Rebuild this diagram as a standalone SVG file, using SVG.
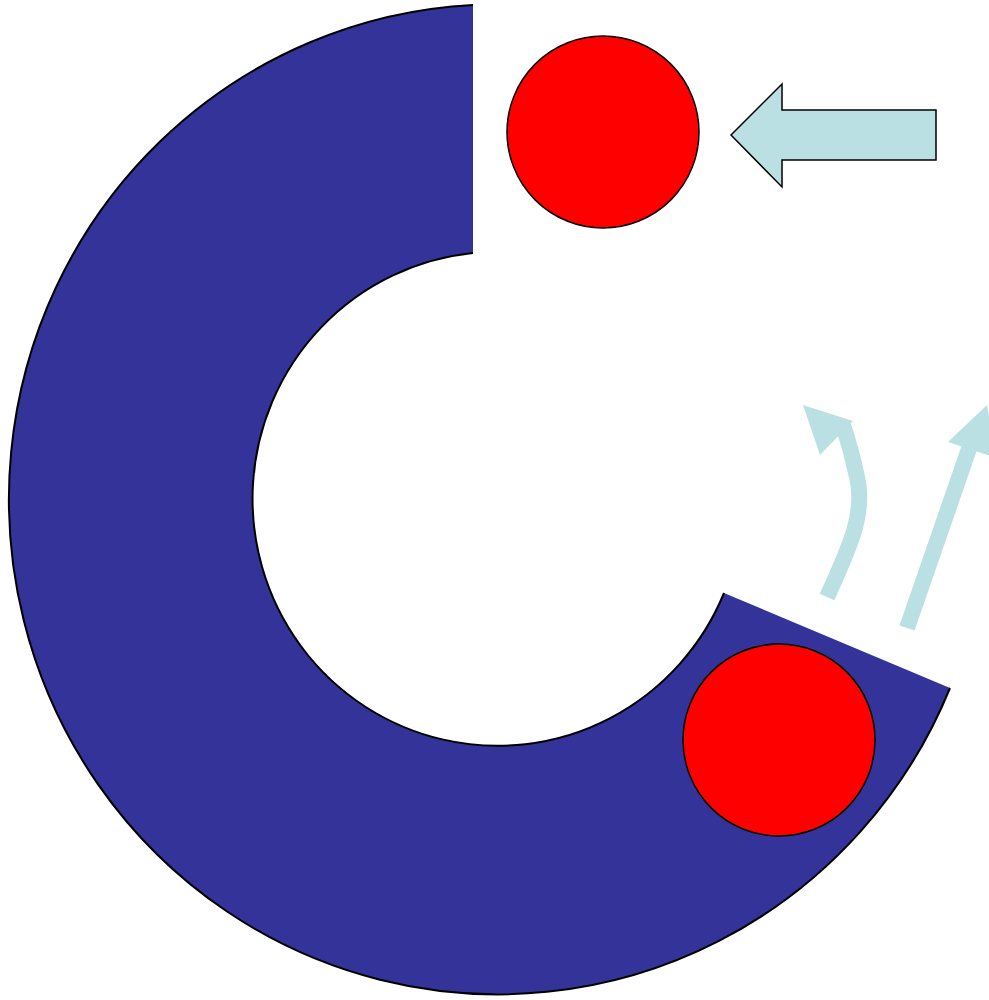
<svg xmlns="http://www.w3.org/2000/svg" width="989" height="1000" viewBox="0 0 989 1000">
<style>
.ring{fill:#333399;stroke:none}
.edge{fill:none;stroke:#000;stroke-width:2}
.ball{fill:#FF0000;stroke:#000;stroke-width:1.5}
.pale{fill:#BBE0E3}
.paleline{fill:none;stroke:#BBE0E3;stroke-width:16}
.block{fill:#BBE0E3;stroke:#000;stroke-width:1.5}
</style>
<rect width="989" height="1000" fill="#fff"/>
<g id="ring">
<path class="ring" d="M473,5 A489,495 0 1 0 950,688 L724,593 A245,247 0 1 1 473,253 Z"/>
<path class="edge" d="M473,5 A489,495 0 1 0 950,688"/>
<path class="edge" d="M724,593 A245,247 0 1 1 473,253"/>
</g>
<g id="ball-top">
<circle class="ball" cx="603" cy="132" r="96"/>
</g>
<g id="ball-bottom">
<circle class="ball" cx="779" cy="740" r="96"/>
</g>
<g id="block-arrow">
<polygon class="block" points="731,135 782,84 782,110 936,110 936,160 782,160 782,187"/>
</g>
<g id="connectors">
<path class="paleline" d="M827,597 C848,550 866,515 857,477 C853,458 849,443 843,425"/>
<polygon class="pale" points="803,405 853,421 820,455"/>
<line class="paleline" x1="907" y1="628" x2="971" y2="443"/>
<polygon class="pale" points="987,405 948,442 997,458"/>
</g>
</svg>
